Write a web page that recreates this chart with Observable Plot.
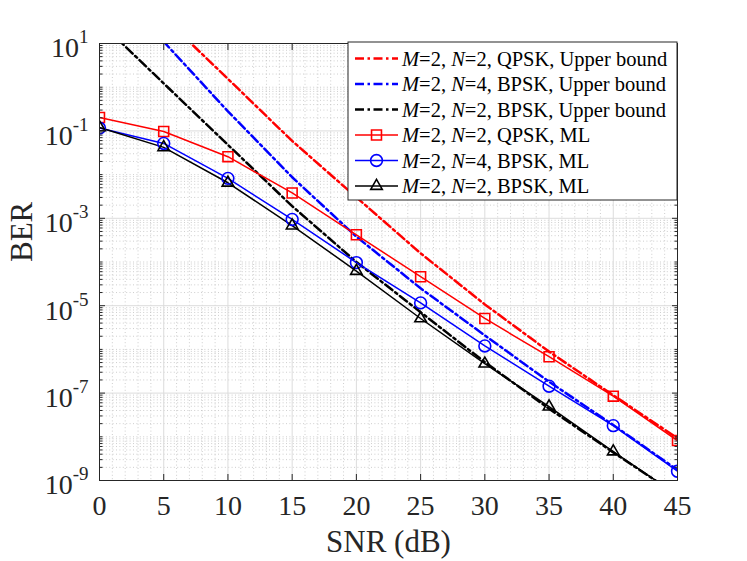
<!DOCTYPE html>
<html><head><meta charset="utf-8">
<script src="https://cdn.jsdelivr.net/npm/d3@7"></script>
<script src="https://cdn.jsdelivr.net/npm/@observablehq/plot@0.6"></script>
<style>body{margin:0;background:#fff} svg text{font-family:"Liberation Serif","Times New Roman",serif !important;font-variant:normal !important}</style>
</head><body><div id="chart"></div>
<script>
// ---- data ----
const snr = [0, 5, 10, 15, 20, 25, 30, 35, 40, 45];
const ubQpskM2N2 = [1000, 39.8, 1.55, 0.0589, 3.02e-3, 1.58e-4, 1.07e-5, 8.9e-7, 8.9e-8, 9.3e-9];
const ubBpskM2N4 = [398, 11.0, 0.28, 8.7e-3, 3.8e-4, 2.5e-5, 2.09e-6, 1.82e-7, 1.86e-8, 1.74e-9];
const ubBpskM2N2 = [31.6, 1.22, 0.0479, 1.9e-3, 1.0e-4, 7.1e-6, 5.1e-7, 4.4e-8, 4.4e-9, 4.6e-10];
const mlQpskM2N2 = [0.203, 0.097, 0.0257, 0.0038, 4.2e-4, 4.6e-5, 5.1e-6, 6.8e-7, 8.5e-8, 8.2e-9];
const mlBpskM2N4 = [0.116, 0.0516, 0.0082, 9.4e-4, 9.7e-5, 1.16e-5, 1.2e-6, 1.44e-7, 1.8e-8, 1.63e-9];
const mlBpskM2N2 = [0.12, 0.042, 0.0065, 6.8e-4, 6.2e-5, 5.1e-6, 4.7e-7, 4.9e-8, 4.6e-9, 4.6e-10];

const xTicks = [0, 5, 10, 15, 20, 25, 30, 35, 40, 45];
const yTickExponents = [-9, -7, -5, -3, -1, 1];
const legendM = ["2", "2", "2", "2", "2", "2"];
const legendN = ["2", "4", "2", "2", "4", "2"];
const legendMod = ["QPSK", "BPSK", "BPSK", "QPSK", "BPSK", "BPSK"];
const legendKind = ["Upper bound", "Upper bound", "Upper bound", "ML", "ML", "ML"];
const seriesColors = ["#ff0000", "#0000ff", "#000000", "#ff0000", "#0000ff", "#000000"];
const seriesSymbols = [null, null, null, "square", "circle", "triangle"];
const seriesValues = [ubQpskM2N2, ubBpskM2N4, ubBpskM2N2, mlQpskM2N2, mlBpskM2N4, mlBpskM2N2];

// ---- styling ----
const W = 747, H = 561;
const mL = 99, mR = 70, mT = 43, mB = 81;
const fontFamily = '"Liberation Serif", "Times New Roman", serif';
const axisColor = "#262626";
const symbolR = {square: 5.6, circle: 5.9, triangle: 4.3};
const ubDash = "9,3.5,2.5,3.5";
const ubWidth = 2.5;

const yTicks = yTickExponents.map(e => Math.pow(10, e));
const xMinor = d3.range(0, 46).filter(d => d % 5 !== 0);
const yMinor = [];
for (let e = -9; e <= 0; e++) for (let k = 1; k <= 9; k++) {
  if (k === 1 && yTickExponents.includes(e)) continue;
  yMinor.push(k * Math.pow(10, e));
}

const marks = [
  Plot.ruleY(yMinor, {stroke: "#c2c2c2", strokeWidth: 0.8, strokeDasharray: "1,2.4"}),
  Plot.ruleX(xMinor, {stroke: "#c2c2c2", strokeWidth: 0.8, strokeDasharray: "1,2.4"}),
  Plot.ruleY(yTicks, {stroke: "#dcdcdc", strokeWidth: 1}),
  Plot.ruleX(xTicks, {stroke: "#dcdcdc", strokeWidth: 1}),
];
seriesValues.forEach((vals, i) => {
  const data = snr.map((x, j) => ({x, y: vals[j]}));
  const isUB = seriesSymbols[i] === null;
  marks.push(Plot.line(data, {
    x: "x", y: "y", stroke: seriesColors[i],
    strokeWidth: isUB ? ubWidth : 1.5,
    strokeDasharray: isUB ? ubDash : null,
    clip: true
  }));
});
seriesValues.forEach((vals, i) => {
  if (!seriesSymbols[i]) return;
  const data = snr.map((x, j) => ({x, y: vals[j]}));
  marks.push(Plot.dot(data, {
    x: "x", y: "y", symbol: seriesSymbols[i], r: symbolR[seriesSymbols[i]],
    stroke: seriesColors[i], fill: "none", strokeWidth: 1.6, clip: true
  }));
});
marks.push(
  Plot.frame({stroke: axisColor, strokeWidth: 1}),
  // inward ticks
  Plot.axisX(xTicks, {anchor: "bottom", tickSize: 6, dy: -6, fill: "none", stroke: axisColor}),
  Plot.axisX(xTicks, {anchor: "top", tickSize: 6, dy: 6, fill: "none", stroke: axisColor}),
  Plot.axisY(yTicks, {anchor: "left", tickSize: 6, dx: 6, fill: "none", stroke: axisColor}),
  Plot.axisY(yTicks, {anchor: "right", tickSize: 6, dx: -6, fill: "none", stroke: axisColor}),
  Plot.axisY(yMinor, {anchor: "left", tickSize: 3.5, dx: 3.5, fill: "none", stroke: axisColor}),
  Plot.axisY(yMinor, {anchor: "right", tickSize: 3.5, dx: -3.5, fill: "none", stroke: axisColor}),
  // labels
  Plot.axisX(xTicks, {anchor: "bottom", tickSize: 0, tickPadding: 15, fontSize: 28, fontFamily, label: null, color: axisColor}),
  Plot.axisY(yTicks, {anchor: "left", tickSize: 0, tickPadding: 11, fontSize: 28, fontFamily, label: null, color: axisColor,
    tickFormat: d => String(Math.round(Math.log10(d)))}),
  Plot.text(["SNR (dB)"], {frameAnchor: "bottom", dy: 71, text: d => d, fontSize: 31, fontFamily, fill: axisColor}),
  Plot.text(["BER"], {frameAnchor: "left", dx: -77, rotate: -90, text: d => d, fontSize: 31, fontFamily, fill: axisColor})
);

const chart = Plot.plot({
  width: W, height: H,
  marginLeft: mL, marginRight: mR, marginTop: mT, marginBottom: mB,
  style: {fontFamily, background: "white", overflow: "visible"},
  x: {domain: [0, 45]},
  y: {type: "log", domain: [1e-9, 10]},
  marks
});
document.getElementById("chart").appendChild(chart);

// superscript exponents on y tick labels
const svg = d3.select(chart);
svg.selectAll('g[aria-label="y-axis tick label"] text').each(function () {
  const t = d3.select(this);
  const e = t.text();
  t.text("10");
  t.append("tspan").attr("dy", -14).attr("font-size", 19).text(e);
  const tr = t.attr("transform");
  t.attr("transform", (tr ? tr + " " : "") + "translate(0,5)");
});

// legend (inside, top-right)
const boxW = 329, boxH = 158;
const boxX = W - mR - boxW, boxY = mT - 1;
const lg = svg.append("g").attr("font-family", fontFamily).attr("font-size", 20.5).attr("text-anchor", "start");
lg.append("rect").attr("x", boxX).attr("y", boxY).attr("width", boxW).attr("height", boxH)
  .attr("fill", "white").attr("stroke", axisColor).attr("stroke-width", 1);
const symMap = {square: d3.symbolSquare, circle: d3.symbolCircle, triangle: d3.symbolTriangle};
legendKind.forEach((kind, i) => {
  const cy = boxY + 16.5 + i * 25.5;
  const isUB = seriesSymbols[i] === null;
  lg.append("line").attr("x1", boxX + 7).attr("x2", boxX + 50).attr("y1", cy).attr("y2", cy)
    .attr("stroke", seriesColors[i]).attr("stroke-width", isUB ? ubWidth : 1.5)
    .attr("stroke-dasharray", isUB ? ubDash : null);
  if (!isUB) {
    const r = symbolR[seriesSymbols[i]];
    lg.append("path").attr("d", d3.symbol(symMap[seriesSymbols[i]], Math.PI * r * r)())
      .attr("transform", `translate(${boxX + 28.5},${cy})`)
      .attr("fill", "none").attr("stroke", seriesColors[i]).attr("stroke-width", 1.6);
  }
  const tx = lg.append("text").attr("x", boxX + 54).attr("y", cy + 7).attr("fill", "#000").attr("text-anchor", "start");
  tx.append("tspan").attr("font-style", "italic").text("M");
  tx.append("tspan").text(`=${legendM[i]}, `);
  tx.append("tspan").attr("font-style", "italic").text("N");
  tx.append("tspan").text(`=${legendN[i]}, ${legendMod[i]}, ${kind}`);
});
</script>
</body></html>
